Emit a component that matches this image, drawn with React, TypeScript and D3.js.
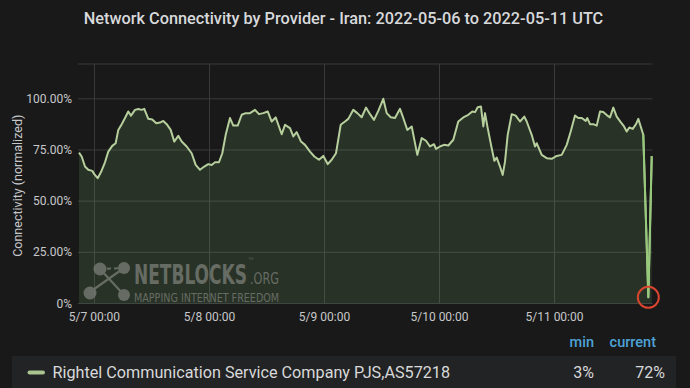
import React, { useLayoutEffect, useRef, useState } from "react";
import * as d3 from "d3";

const TITLE = "Network Connectivity by Provider - Iran: 2022-05-06 to 2022-05-11 UTC";
const SERIES_NAME = "Rightel Communication Service Company PJS,AS57218";
const Y_TICKS = [0, 25, 50, 75, 100];
const X_TICK_DAYS = [7, 8, 9, 10, 11];
const LEGEND_HEADERS = ["min", "current"];
const LEGEND_VALUES = ["3%", "72%"];
const WATERMARK = ["NETBLOCKS", ".ORG", "MAPPING INTERNET FREEDOM"];

// hours relative to 2022-05-07 00:00 UTC
const HOURS = [
  -3.23, -2.67, -1.98, -1.29, -0.46, -0.04, 0.67, 1.36, 2.19, 2.88, 3.71, 4.42, 4.97, 5.68, 6.37, 7.05,
  7.62, 8.45, 9.14, 9.85, 10.39, 11.23, 12.06, 12.9, 13.67, 14.36, 15.07, 15.9, 16.65, 17.49, 18.2, 19.24,
  20.28, 21.12, 22.02, 22.91, 23.75, 24.46, 25.15, 25.98, 26.67, 27.38, 28.28, 28.97, 29.89, 30.72, 31.55,
  32.45, 33.5, 34.33, 35.23, 36.15, 36.98, 37.82, 39.07, 39.76, 40.8, 41.49, 42.2, 43.1, 43.93, 44.98, 45.87,
  46.85, 47.75, 48.67, 49.5, 50.4, 51.38, 52.28, 52.97, 54.01, 54.85, 55.76, 56.66, 57.5, 58.33, 59.23, 60.27,
  60.98, 61.82, 62.71, 63.76, 64.44, 65.28, 66.2, 66.68, 67.37, 68.29, 69.18, 70.02, 70.85, 71.27, 72.1, 72.94,
  73.84, 74.88, 75.92, 76.97, 78.01, 78.85, 79.41, 79.97, 80.66, 81.14, 81.5, 82.06, 82.89, 83.44, 83.94, 84.63,
  85.19, 85.67, 86.23, 87.07, 87.9, 88.8, 89.7, 90.2, 91.24, 91.93, 92.28, 93.33, 94.37, 95.41, 96.46, 97.5,
  98.55, 99.38, 100.28, 100.97, 101.68, 102.51, 102.85, 103.41, 104.1, 104.81, 105.5, 106.18, 107.02, 107.58,
  108.27, 108.98, 109.82, 110.51, 111.07, 111.61, 112.32, 113.01, 113.49, 113.99, 114.53, 115.58, 116.29,
];
const VALUES = [
  73.7, 71.8, 66.9, 65.3, 64.8, 63.2, 61.2, 64.2, 69, 74.2, 77, 78.3, 84.8, 87.6, 90.6, 93.8,
  91.8, 94.6, 95, 94.6, 95.1, 90.2, 89.9, 88.1, 88.4, 89.2, 87.6, 84.8, 79.1, 81.9, 79.1, 76.7,
  73.4, 67.7, 65.3, 66.9, 68.1, 67.7, 69, 69, 73.4, 82.4, 90.6, 86.9, 86.9, 92.2, 93,
  93, 94.6, 92.5, 93, 93.8, 88.9, 90.9, 82.7, 87.3, 85.7, 81.6, 83.7, 79.1, 77.5, 74.2, 71.8,
  70.2, 72.1, 68.1, 70.2, 73.4, 87.3, 88.9, 90.2, 94.6, 93, 91, 95.7, 92.5, 89.7, 94.1, 100,
  93, 91, 90.6, 95.1, 90.6, 84.8, 86.5, 80.8, 72.6, 80.8, 79.5, 76.7, 77.8, 75.5, 76.7, 77.5,
  77.2, 80, 88.9, 90.9, 92.2, 93.8, 93.5, 95.9, 96.2, 86.5, 93, 85.7, 75.9, 69.7, 71.3, 66.9,
  62.8, 69.3, 82.4, 92.5, 91.8, 88.9, 91.3, 88.9, 82.4, 76.7, 78.3, 72.6, 71, 70.7, 72.1, 72.6,
  77.5, 84, 91.8, 90.6, 90.6, 89.2, 90.6, 87.6, 87.6, 86.9, 93.8, 93.5, 91.8, 90.9,
  95.7, 91.3, 88.6, 86.5, 84, 86, 85.3, 87.6, 90.2, 86.5, 82.4, 3, 72,
];

const BASE = Date.UTC(2022, 4, 7);
const toDate = (h: number) => new Date(BASE + h * 3600e3);

const W = 690;
const H = 388;
const PL = 78;
const PR = 652.5;
const PT = 64;
const PB = 303.5;

export default function App() {
  const x = d3.scaleUtc().domain([toDate(-3.44), toDate(116.45)]).range([PL, PR]);
  const y = d3.scaleLinear().domain([0, 117]).range([PB, PT]);
  const data = HOURS.map((h, i) => ({ t: toDate(h), v: VALUES[i] }));
  const line = d3.line<any>().x((d) => x(d.t)).y((d) => y(d.v));
  const area = d3.area<any>().x((d) => x(d.t)).y0(y(0)).y1((d) => y(d.v));
  const fmtX = d3.utcFormat("%-m/%-d %H:%M");
  const xTicks = X_TICK_DAYS.map((d) => new Date(Date.UTC(2022, 4, d)));
  const minIdx = VALUES.indexOf(d3.min(VALUES) as number);
  const minPt = data[minIdx];
  const last = data.length - 1;
  const font = "Roboto, 'Noto Sans', sans-serif";
  const grid = "#3a3b3c";
  const wmColor = "#7b8079";
  const wmFont = "'DejaVu Sans Condensed', 'DejaVu Sans', sans-serif";

  const targets = [113, 29, 145];
  const refs = [useRef<SVGTextElement>(null), useRef<SVGTextElement>(null), useRef<SVGTextElement>(null)];
  const [sx, setSx] = useState<number[]>([0.7, 0.7, 0.7]);
  useLayoutEffect(() => {
    const s = refs.map((r, i) => {
      const len = r.current ? r.current.getComputedTextLength() : 0;
      return len > 0 ? targets[i] / len : 0.7;
    });
    setSx(s);
  }, []);

  return (
    <svg
      width={W}
      height={H}
      style={{ position: "fixed", left: 0, top: 0, display: "block" }}
      fontFamily={font}
    >
      <rect x={0} y={0} width={W} height={H} fill="#19191a" />
      <text x={343.5} y={24} textAnchor="middle" fill="#d8d9da" fontSize={16.3} fontWeight={500}>
        {TITLE}
      </text>

      {/* grid */}
      <line x1={PL} x2={PR} y1={PT} y2={PT} stroke={grid} strokeWidth={1} />
      {Y_TICKS.map((t) => (
        <line key={"gy" + t} x1={PL} x2={PR} y1={y(t)} y2={y(t)} stroke={grid} strokeWidth={1} />
      ))}
      {xTicks.map((t, i) => (
        <line key={"gx" + i} x1={x(t)} x2={x(t)} y1={PT} y2={PB} stroke={grid} strokeWidth={1} />
      ))}

      {/* series area */}
      <path d={area(data) as string} fill="#7eb26d" fillOpacity={0.17} />

      {/* watermark */}
      <g opacity={0.75}>
        <line x1={100} y1={269} x2={124} y2={268} stroke={wmColor} strokeWidth={2} strokeDasharray="4 3" />
        <line x1={100} y1={269} x2={124} y2={295} stroke={wmColor} strokeWidth={2.2} />
        <line x1={124} y1={268} x2={90} y2={292} stroke={wmColor} strokeWidth={2.2} />
        <circle cx={100} cy={269} r={6.5} fill={wmColor} />
        <circle cx={124} cy={268} r={6} fill={wmColor} />
        <circle cx={90} cy={293} r={6.5} fill={wmColor} />
        <circle cx={124} cy={295} r={6} fill={wmColor} />
        <text ref={refs[0]} transform={`translate(134,284) scale(${sx[0]},1)`} fill={wmColor} fontSize={27} fontWeight={700} fontFamily={wmFont}>
          {WATERMARK[0]}
        </text>
        <text x={248.5} y={260} fill={wmColor} fontSize={3.5} fontFamily={wmFont}>
          TM
        </text>
        <text ref={refs[1]} transform={`translate(250,284) scale(${sx[1]},1)`} fill={wmColor} fontSize={16} fontFamily={wmFont}>
          {WATERMARK[1]}
        </text>
        <text ref={refs[2]} transform={`translate(134,301.5) scale(${sx[2]},1)`} fill={wmColor} fontSize={12.5} fontFamily={wmFont}>
          {WATERMARK[2]}
        </text>
      </g>

      {/* series line */}
      <path d={line(data) as string} fill="none" stroke="#b6cf9c" strokeWidth={2} strokeLinejoin="round" />
      <path
        d={line(data.slice(minIdx - 1, last + 1)) as string}
        fill="none"
        stroke="#96c97a"
        strokeWidth={2}
      />
      <circle cx={x(minPt.t)} cy={y(minPt.v)} r={10.5} fill="none" stroke="#d8452f" strokeWidth={2} />

      {/* y axis */}
      {Y_TICKS.map((t) => (
        <text key={"yt" + t} x={72} y={y(t) + 4} textAnchor="end" fill="#c7c8c9" fontSize={12}>
          {t === 0 ? "0%" : t.toFixed(2) + "%"}
        </text>
      ))}
      <text
        transform={`translate(22, ${(PT + PB) / 2 + 2}) rotate(-90)`}
        textAnchor="middle"
        fill="#c7c8c9"
        fontSize={12.5}
      >
        Connectivity (normalized)
      </text>

      {/* x axis */}
      {xTicks.map((t, i) => (
        <text key={"xt" + i} x={x(t)} y={321} textAnchor="middle" fill="#c7c8c9" fontSize={12}>
          {fmtX(t)}
        </text>
      ))}

      {/* legend */}
      <text x={594} y={347} textAnchor="end" fill="#4ea3d6" fontSize={14.5} fontWeight={500}>
        {LEGEND_HEADERS[0]}
      </text>
      <text x={656} y={347} textAnchor="end" fill="#4ea3d6" fontSize={14.5} fontWeight={500}>
        {LEGEND_HEADERS[1]}
      </text>
      <rect x={12} y={356} width={664} height={32} fill="#222324" />
      <rect x={27.5} y={370.5} width={17.5} height={4} rx={2} fill="#a9c48f" />
      <text x={52.5} y={377.5} fill="#d8d9da" fontSize={16.2}>
        {SERIES_NAME}
      </text>
      <text x={594} y={377.5} textAnchor="end" fill="#d8d9da" fontSize={16}>
        {LEGEND_VALUES[0]}
      </text>
      <text x={665} y={377.5} textAnchor="end" fill="#d8d9da" fontSize={16}>
        {LEGEND_VALUES[1]}
      </text>
    </svg>
  );
}
